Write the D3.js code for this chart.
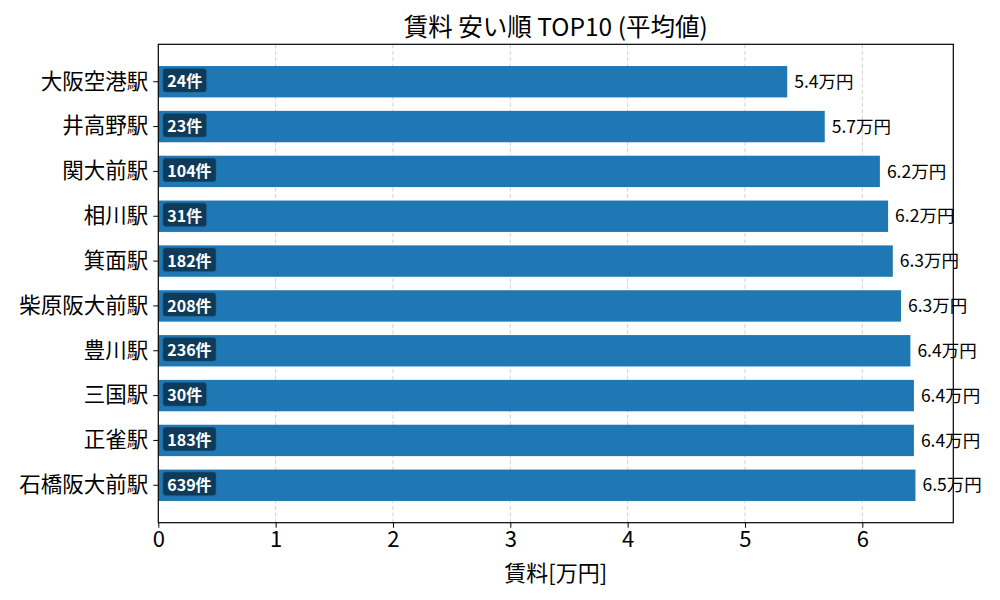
<!DOCTYPE html>
<html>
<head>
<meta charset="utf-8">
<script src="https://cdn.jsdelivr.net/npm/d3@7"></script>
<style>
  body { margin: 0; background: #fff; }
  svg { font-family: "Noto Sans CJK JP", "Noto Sans", sans-serif; }
</style>
</head>
<body>
<script>
// Data, top to bottom as drawn
const stations = ["大阪空港駅", "井高野駅", "関大前駅", "相川駅", "箕面駅",
  "柴原阪大前駅", "豊川駅", "三国駅", "正雀駅", "石橋阪大前駅"];
const rents = [5.36, 5.68, 6.15, 6.22, 6.26, 6.33, 6.41, 6.44, 6.44, 6.453];
const counts = [24, 23, 104, 31, 182, 208, 236, 30, 183, 639];
const xTicks = [0, 1, 2, 3, 4, 5, 6];

const width = 1000,
  height = 600;
const margin = { top: 44.3, right: 46.7, bottom: 77.3, left: 158.3 };
const innerWidth = width - margin.left - margin.right;
const innerHeight = height - margin.top - margin.bottom;

const svg = d3
  .select("body")
  .append("svg")
  .attr("width", width)
  .attr("height", height);

const mainG = svg
  .append("g")
  .attr("transform", `translate(${margin.left},${margin.top})`);

const xScale = d3
  .scaleLinear()
  .domain([0, d3.max(rents) * 1.05])
  .range([0, innerWidth]);

const yScale = d3
  .scaleBand()
  .domain(stations)
  .range([0, innerHeight])
  .paddingInner(0.3)
  .paddingOuter(0.485);

// dashed grid, under the bars
mainG
  .append("g")
  .selectAll("line")
  .data(xTicks.filter(d => d > 0))
  .enter()
  .append("line")
  .attr("x1", d => xScale(d))
  .attr("x2", d => xScale(d))
  .attr("y1", 0)
  .attr("y2", innerHeight)
  .attr("stroke", "#b0b0b0")
  .attr("stroke-opacity", 0.6)
  .attr("stroke-width", 1)
  .attr("stroke-dasharray", "4,2.5");

const g = mainG
  .selectAll("g.bar")
  .data(stations)
  .enter()
  .append("g")
  .attr("class", "bar");

g.append("rect")
  .attr("x", 0)
  .attr("y", d => yScale(d))
  .attr("width", (d, i) => xScale(rents[i]))
  .attr("height", yScale.bandwidth())
  .attr("fill", "#1f77b4");

// value labels
g.append("text")
  .attr("x", (d, i) => xScale(rents[i]) + 7)
  .attr("y", d => yScale(d) + yScale.bandwidth() / 2)
  .attr("dy", "0.35em")
  .attr("font-size", 17.5)
  .attr("fill", "#000")
  .text((d, i) => rents[i].toFixed(1) + "万円");

// count badges
const badge = g.append("g");
badge
  .append("text")
  .attr("class", "cnt")
  .attr("x", 9)
  .attr("y", d => yScale(d) + yScale.bandwidth() / 2)
  .attr("dy", "0.35em")
  .attr("font-size", 16)
  .attr("font-weight", "bold")
  .attr("fill", "#fff")
  .text((d, i) => counts[i] + "件");

badge.each(function() {
  const t = d3.select(this).select("text");
  const bb = t.node().getBBox();
  d3.select(this)
    .insert("rect", "text")
    .attr("x", bb.x - 4.5)
    .attr("y", bb.y + bb.height / 2 - 12)
    .attr("width", bb.width + 9)
    .attr("height", 24)
    .attr("rx", 3)
    .attr("fill", "#000")
    .attr("fill-opacity", 0.5)
    .attr("stroke", "#1f77b4")
    .attr("stroke-opacity", 0.5);
});

// axes
const xAxis = d3.axisBottom(xScale).tickValues(xTicks).tickFormat(d3.format("d"))
  .tickSize(5).tickPadding(4);
const xg = mainG
  .append("g")
  .attr("transform", `translate(0,${innerHeight})`)
  .call(xAxis);
xg.select(".domain").remove();
xg.selectAll("text").attr("font-size", 22).attr("fill", "#000")
  .attr("font-family", "'Noto Sans CJK JP', sans-serif");
xg.selectAll("line").attr("stroke", "#000");

const yAxis = d3.axisLeft(yScale).tickSize(5).tickPadding(5);
const yg = mainG.append("g").call(yAxis);
yg.select(".domain").remove();
yg.selectAll("text").attr("font-size", 21.5).attr("fill", "#000")
  .attr("font-family", "'Noto Sans CJK JP', sans-serif");
yg.selectAll("line").attr("stroke", "#000");

// frame
mainG
  .append("rect")
  .attr("width", innerWidth)
  .attr("height", innerHeight)
  .attr("fill", "none")
  .attr("stroke", "#000")
  .attr("stroke-width", 1.2);

// title and axis label
svg
  .append("text")
  .attr("x", margin.left + innerWidth / 2)
  .attr("y", 27)
  .attr("dy", "0.35em")
  .attr("text-anchor", "middle")
  .attr("font-size", 24.5)
  .text("賃料 安い順 TOP10 (平均値)");

svg
  .append("text")
  .attr("x", margin.left + innerWidth / 2)
  .attr("y", 573)
  .attr("dy", "0.35em")
  .attr("text-anchor", "middle")
  .attr("font-size", 22)
  .text("賃料[万円]");
</script>
</body>
</html>
